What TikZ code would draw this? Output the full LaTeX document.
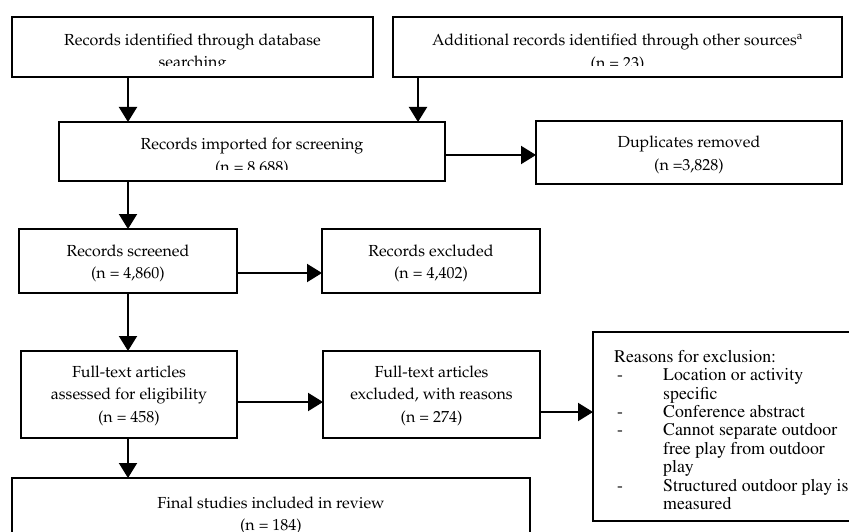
\documentclass[tikz,border=0pt]{standalone}
\usepackage[T1]{fontenc}
\renewcommand{\rmdefault}{ppl}
\usetikzlibrary{arrows.meta,calc}
\newcommand{\rdash}{\hspace*{3pt}\makebox[46pt][l]{-}}
\newcommand{\rind}{\hspace*{49pt}}
\begin{document}
\begin{tikzpicture}[x=1pt,y=-1pt,
  box/.style={draw, line width=2pt, inner sep=0pt, outer sep=0pt},
  txt/.style={align=center, font=\fontsize{16}{22.5}\selectfont, inner sep=0pt},
  arr/.style={line width=2pt, -{Triangle[width=18pt,length=15pt]}}]
\useasboundingbox (0,0) rectangle (849,532);
\clip (0,0) rectangle (849,532);

% boxes
\node[box, minimum width=361pt, minimum height=60pt] (b1) at (192.5,47) {};
\node[box, minimum width=449pt, minimum height=60pt] (b2) at (617.5,47) {};
\node[box, minimum width=386pt, minimum height=59pt] (b3) at (252,151.5) {};
\node[box, minimum width=306pt, minimum height=63pt] (dup) at (689,152.5) {};
\node[box, minimum width=218pt, minimum height=64pt] (scr) at (128,261) {};
\node[box, minimum width=218pt, minimum height=64pt] (exc) at (431,261) {};
\node[box, minimum width=216pt, minimum height=87pt] (ft) at (129,394.5) {};
\node[box, minimum width=217pt, minimum height=87pt] (ftx) at (431.5,394.5) {};
\node[box, minimum width=287pt, minimum height=189pt] (rsn) at (736.5,426.5) {};
\node[box, minimum width=518pt, minimum height=82pt] (fin) at (271,519) {};

% texts (some clipped as in the original)
\begin{scope}
\clip (12,17) rectangle (373,65.5);
\node[txt] (t1) at (192.5,53) {Records identified through database\\searching};
\end{scope}
\begin{scope}
\clip (393,17) rectangle (842,65.5);
\node[txt] (t2) at (617.5,53) {Additional records identified through other sources\textsuperscript{a}\\(n = 23)};
\end{scope}
\begin{scope}
\clip (59,122) rectangle (445,170);
\node[txt] (t3) at (252,157) {Records imported for screening\\(n = 8,688)};
\end{scope}
\node[txt] (tdup) at (689,155) {Duplicates removed\\(n =3,828)};
\node[txt] (tscr) at (128,263.5) {Records screened\\(n = 4,860)};
\node[txt] (texc) at (431,263.5) {Records excluded\\(n = 4,402)};
\node[txt] (tft) at (129,395.5) {Full-text articles\\assessed for eligibility\\(n = 458)};
\node[txt] (tftx) at (431.5,395.5) {Full-text articles\\excluded, with reasons\\(n = 274)};
\node[txt] (tfin) at (271,515.5) {Final studies included in review\\(n = 184)};
\node[anchor=north west, inner sep=0pt, align=left,
      font=\fontfamily{ptm}\fontsize{17.8}{18.4}\selectfont] (trsn) at (614,350)
  {Reasons for exclusion:\\
   \rdash Location or activity\\
   \rind specific\\
   \rdash Conference abstract\\
   \rdash Cannot separate outdoor\\
   \rind free play from outdoor\\
   \rind play\\
   \rdash Structured outdoor play is\\
   \rind measured};

% connectors
\draw[arr] (b1.south -| scr) -- (b3.north -| scr);
\draw[arr] ([xshift=25pt]b2.south west) -- ([xshift=25pt]b2.south west |- b3.north);
\draw[arr] ([yshift=-3.5pt]b3.east) -- ([yshift=-3.5pt]b3.east -| dup.west);
\draw[arr] (b3.south -| scr) -- (scr.north);
\draw[arr] ([yshift=-12pt]scr.east) -- ([yshift=-12pt]scr.east -| exc.west);
\draw[arr] (scr.south) -- (ft.north -| scr);
\draw[arr] ([yshift=-7.5pt]ft.east) -- ([yshift=-7.5pt]ft.east -| ftx.west);
\draw[arr] ([yshift=-17.5pt]ftx.east) -- ([yshift=-17.5pt]ftx.east -| rsn.west);
\draw[arr] (ft.south -| scr) -- (fin.north -| scr);
\end{tikzpicture}
\end{document}
